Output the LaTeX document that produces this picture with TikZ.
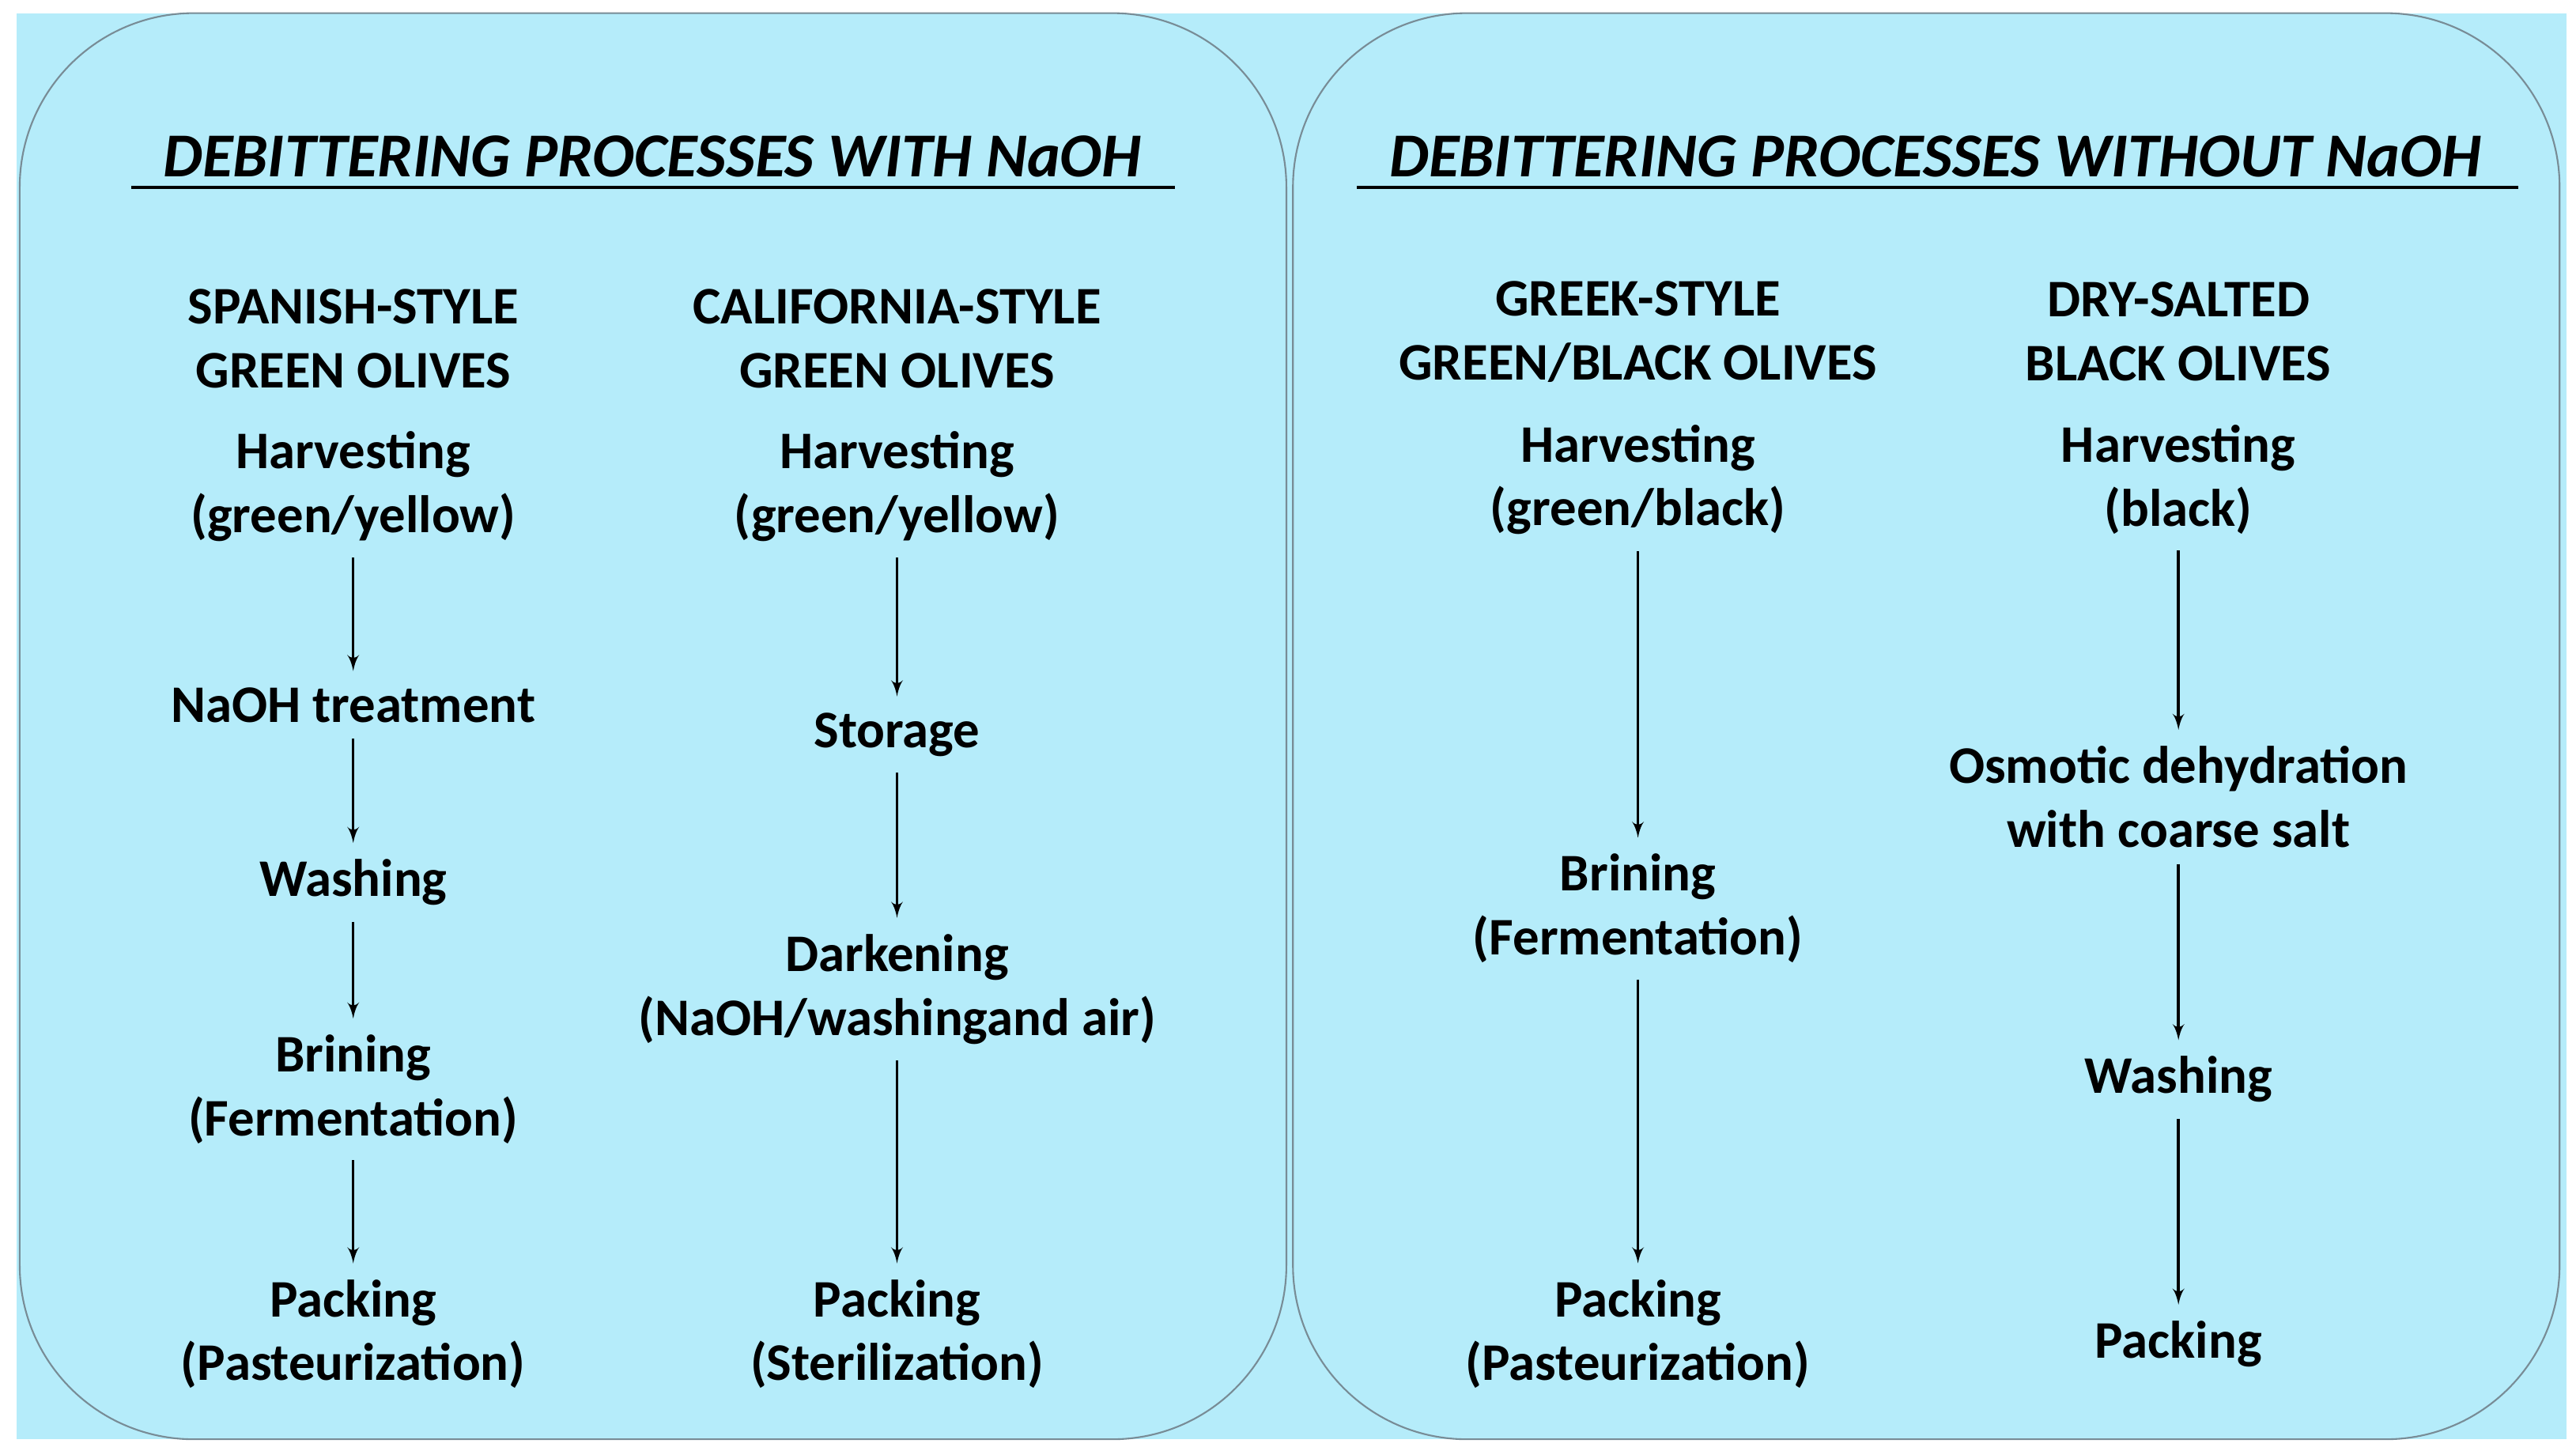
\documentclass[tikz,border=0pt]{standalone}
\usepackage{fontspec}
\setmainfont{Carlito}
\usetikzlibrary{arrows}
\definecolor{skyfill}{RGB}{181,236,250}
\definecolor{panelline}{RGB}{120,140,150}
\tikzstyle{stage} = [align=center, font=\fontsize{19}{23}\selectfont\bfseries, inner sep=0.2cm]
\tikzstyle{title} = [font=\fontsize{22.5}{26}\selectfont\bfseries\itshape]
\tikzstyle{panel} = [draw=panelline, line width=0.6pt, rounded corners=2.2cm]
\tikzstyle{line} = [draw, -latex', line width=1pt]

\begin{document}
\begin{tikzpicture}[x=0.2078mm, y=-0.2078mm]
    \useasboundingbox (0,0) rectangle (1568,883);
    % Background and panels
    \fill [skyfill] (10,8) rectangle (1562,876);
    \path [panel] (12,8) rectangle (783,876);
    \path [panel] (787,8) rectangle (1558,876);
    % Titles
    \node [title] (t1) at (397,95) {DEBITTERING PROCESSES WITH NaOH};
    \node [title] (t2) at (1178,95) {DEBITTERING PROCESSES WITHOUT NaOH};
    \draw [line width=1pt] (80,114) -- (715,114);
    \draw [line width=1pt] (826,114) -- (1533,114);
    % Spanish-style
    \node [stage] (sp) at (215,206) {SPANISH-STYLE\\GREEN OLIVES};
    \node [stage] (sp1) at (215,296) {Harvesting\\(green/yellow)};
    \node [stage] (sp2) at (215,429) {NaOH treatment};
    \node [stage] (sp3) at (215,537) {Washing};
    \node [stage] (sp4) at (215,663) {Brining\\(Fermentation)};
    \node [stage] (sp5) at (215,812) {Packing\\(Pasteurization)};
    % California-style
    \node [stage] (ca) at (546,206) {CALIFORNIA-STYLE\\GREEN OLIVES};
    \node [stage] (ca1) at (546,296) {Harvesting\\(green/yellow)};
    \node [stage] (ca2) at (546,447) {Storage};
    \node [stage] (ca3) at (546,602) {Darkening\\(NaOH/washingand air)};
    \node [stage] (ca4) at (546,812) {Packing\\(Sterilization)};
    % Greek-style
    \node [stage] (gr) at (997,202) {GREEK-STYLE\\GREEN/BLACK OLIVES};
    \node [stage] (gr1) at (997,292) {Harvesting\\(green/black)};
    \node [stage] (gr2) at (997,553) {Brining\\(Fermentation)};
    \node [stage] (gr3) at (997,812) {Packing\\(Pasteurization)};
    % Dry-salted
    \node [stage] (ds) at (1326,202) {DRY-SALTED\\BLACK OLIVES};
    \node [stage] (ds1) at (1326,292) {Harvesting\\(black)};
    \node [stage] (ds2) at (1326,485) {Osmotic dehydration\\with coarse salt};
    \node [stage] (ds3) at (1326,657) {Washing};
    \node [stage] (ds4) at (1326,818) {Packing};

    \path [line] (sp1) -- (sp2);
    \path [line] (sp2) -- (sp3);
    \path [line] (sp3) -- (sp4);
    \path [line] (sp4) -- (sp5);
    \path [line] (ca1) -- (ca2);
    \path [line] (ca2) -- (ca3);
    \path [line] (ca3) -- (ca4);
    \path [line] (gr1) -- (gr2);
    \path [line] (gr2) -- (gr3);
    \path [line] (ds1) -- (ds2);
    \path [line] (ds2) -- (ds3);
    \path [line] (ds3) -- (ds4);
\end{tikzpicture}
\end{document}
